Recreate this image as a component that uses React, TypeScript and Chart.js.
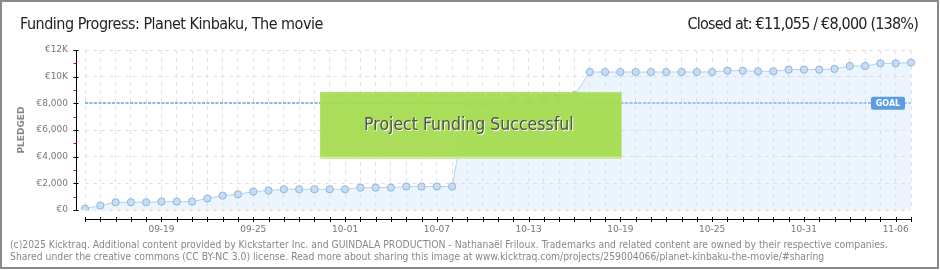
import React, { useEffect, useRef } from "react";
import { Chart, registerables } from "chart.js";

Chart.register(...registerables);

// ---------- data ----------
const DATES: string[] = [
  "09-14", "09-15", "09-16", "09-17", "09-18", "09-19", "09-20", "09-21", "09-22", "09-23",
  "09-24", "09-25", "09-26", "09-27", "09-28", "09-29", "09-30", "10-01", "10-02", "10-03",
  "10-04", "10-05", "10-06", "10-07", "10-08", "10-09", "10-10", "10-11", "10-12", "10-13",
  "10-14", "10-15", "10-16", "10-17", "10-18", "10-19", "10-20", "10-21", "10-22", "10-23",
  "10-24", "10-25", "10-26", "10-27", "10-28", "10-29", "10-30", "10-31", "11-01", "11-02",
  "11-03", "11-04", "11-05", "11-06", "11-07",
];

const PLEDGED: number[] = [
  100, 330, 580, 580, 580, 630, 630, 630, 860, 1080,
  1180, 1380, 1460, 1556, 1556, 1556, 1556, 1556, 1680, 1680,
  1680, 1760, 1760, 1760, 1760, 8000, 8050, 8050, 8250, 8250,
  8400, 8500, 8620, 10350, 10350, 10350, 10350, 10350, 10350, 10350,
  10350, 10350, 10450, 10450, 10400, 10400, 10530, 10530, 10530, 10580,
  10800, 10800, 11000, 11000, 11055,
];

const GOAL = 8000;
const Y_MAX = 12000;
const Y_MAJOR_STEP = 2000;
const Y_MINOR_STEP = 1000;
const LABEL_EVERY = 6;
const LABEL_OFFSET = 5;

const TITLE = "Funding Progress: Planet Kinbaku, The movie";
const CLOSED_TEXT = "Closed at: €11,055 / €8,000 (138%)";
const SUCCESS_TEXT = "Project Funding Successful";
const FOOTER_1 =
  "(c)2025 Kicktraq. Additional content provided by Kickstarter Inc. and GUINDALA PRODUCTION - Nathanaël Friloux. Trademarks and related content are owned by their respective companies.";
const FOOTER_2 =
  "Shared under the creative commons (CC BY-NC 3.0) license. Read more about sharing this image at www.kicktraq.com/projects/259004066/planet-kinbaku-the-movie/#sharing";

function yLabel(v: number): string {
  if (v >= 10000) return "€" + v / 1000 + "K";
  return "€" + v.toLocaleString("en-US");
}

const decorPlugin = {
  id: "kicktraqDecor",
  beforeDatasetsDraw(chart: any) {
    const { ctx, chartArea, scales } = chart;
    const y = scales.y;
    const gy = Math.round(y.getPixelForValue(GOAL));
    ctx.save();
    ctx.strokeStyle = "#86b8ee";
    ctx.lineWidth = 2;
    ctx.setLineDash([3, 1.5]);
    ctx.beginPath();
    ctx.moveTo(chartArea.left, gy);
    ctx.lineTo(chartArea.right, gy);
    ctx.stroke();
    ctx.restore();
  },
  afterDatasetsDraw(chart: any) {
    const { ctx, chartArea, scales } = chart;
    const x = scales.x;
    const y = scales.y;
    ctx.save();

    // y axis line + ticks
    const ax = Math.round(chartArea.left - 9) + 0.5;
    ctx.strokeStyle = "#000";
    ctx.lineWidth = 1;
    ctx.beginPath();
    ctx.moveTo(ax, chartArea.top);
    ctx.lineTo(ax, chartArea.bottom);
    ctx.stroke();
    for (let v = 0; v <= Y_MAX; v += Y_MINOR_STEP) {
      const py = Math.round(y.getPixelForValue(v)) + 0.5;
      const major = v % Y_MAJOR_STEP === 0;
      ctx.strokeStyle = major ? "#000" : "#e00000";
      ctx.beginPath();
      ctx.moveTo(ax - 3, py);
      ctx.lineTo(major ? ax + 2 : ax, py);
      ctx.stroke();
    }

    // x axis line + ticks
    const ay = Math.round(chartArea.bottom + 10) - 0.5;
    ctx.strokeStyle = "#000";
    ctx.beginPath();
    ctx.moveTo(chartArea.left, ay);
    ctx.lineTo(chartArea.right, ay);
    ctx.stroke();
    for (let i = 0; i < DATES.length; i++) {
      const px = Math.round(x.getPixelForValue(i)) + 0.5;
      ctx.beginPath();
      ctx.moveTo(px, ay - 2.5);
      ctx.lineTo(px, ay + 2.5);
      ctx.stroke();
    }

    // success box (placed in data units)
    const bx0 = x.getPixelForValue(15.37);
    const bx1 = x.getPixelForValue(35.08);
    const by0 = y.getPixelForValue(8830);
    const by1 = y.getPixelForValue(3860);
    ctx.globalAlpha = 0.93;
    ctx.fillStyle = "#a3da4a";
    ctx.fillRect(bx0, by0, bx1 - bx0, by1 - by0);
    // subtle diagonal hatch
    ctx.globalAlpha = 0.12;
    ctx.strokeStyle = "#d6f0a8";
    ctx.lineWidth = 1;
    ctx.save();
    ctx.beginPath();
    ctx.rect(bx0, by0, bx1 - bx0, by1 - by0);
    ctx.clip();
    for (let d = bx0 - (by1 - by0); d < bx1; d += 3) {
      ctx.beginPath();
      ctx.moveTo(d, by1);
      ctx.lineTo(d + (by1 - by0), by0);
      ctx.stroke();
    }
    ctx.restore();
    ctx.globalAlpha = 1;
    ctx.fillStyle = "#cfeb9a";
    ctx.fillRect(bx0, by1 - 2, bx1 - bx0, 2);
    ctx.fillStyle = "#b4e06c";
    ctx.fillRect(bx0, by0, bx1 - bx0, 1);

    ctx.font = '17.5px "DejaVu Sans Condensed", sans-serif';
    ctx.textAlign = "center";
    ctx.textBaseline = "middle";
    const tx = (bx0 + bx1) / 2 - 2;
    const ty = (by0 + by1) / 2;
    ctx.fillStyle = "#ffffff";
    ctx.fillText(SUCCESS_TEXT, tx + 1, ty + 1);
    ctx.fillStyle = "#505050";
    ctx.fillText(SUCCESS_TEXT, tx, ty);

    // goal label
    const gy = y.getPixelForValue(GOAL);
    const lw = 34;
    const lh = 13;
    const lx = chartArea.right - 6 - lw;
    ctx.fillStyle = "#5b9de2";
    ctx.beginPath();
    (ctx as any).roundRect(lx, gy - lh / 2, lw, lh, 2);
    ctx.fill();
    ctx.fillStyle = "#ffffff";
    ctx.font = 'bold 8px "DejaVu Sans", sans-serif';
    ctx.textAlign = "center";
    ctx.textBaseline = "middle";
    ctx.fillText("GOAL", lx + lw / 2, gy + 0.5);

    ctx.restore();
  },
};

export default function App() {
  const canvasRef = useRef<HTMLCanvasElement | null>(null);

  useEffect(() => {
    document.body.style.margin = "0";
    const canvas = canvasRef.current;
    if (!canvas) return;
    const tickFont = { family: '"DejaVu Sans", sans-serif', size: 9 };
    const chart = new Chart(canvas, {
      type: "line",
      data: {
        labels: DATES,
        datasets: [
          {
            data: PLEDGED,
            fill: "origin",
            backgroundColor: "rgba(196, 222, 250, 0.32)",
            borderColor: "#b4d3f3",
            borderWidth: 1,
            tension: 0,
            pointRadius: 3.6,
            pointBackgroundColor: "#c6ddf6",
            pointBorderColor: "#90b3da",
            pointBorderWidth: 1,
          },
        ],
      },
      options: {
        animation: false,
        responsive: false,
        maintainAspectRatio: false,
        events: [],
        layout: { padding: { top: 50, right: 29, left: 0, bottom: 0 } },
        plugins: {
          legend: { display: false },
          tooltip: { enabled: false },
          title: { display: false },
        },
        scales: {
          x: {
            type: "category",
            offset: false,
            grid: { color: "#e2e2e2", drawTicks: false, lineWidth: 1 },
            border: { display: false, dash: [4, 4] },
            ticks: {
              autoSkip: false,
              maxRotation: 0,
              minRotation: 0,
              padding: 14,
              color: "#777",
              font: tickFont,
              callback: (_v: any, i: number) =>
                i % LABEL_EVERY === LABEL_OFFSET ? DATES[i] : "",
            },
            afterFit: (s: any) => {
              s.height = 60;
            },
          },
          y: {
            min: 0,
            max: Y_MAX,
            grid: { color: "#e2e2e2", drawTicks: false, lineWidth: 1 },
            border: { display: false, dash: [4, 4] },
            ticks: {
              stepSize: Y_MAJOR_STEP,
              padding: 17,
              color: "#777",
              font: tickFont,
              callback: (v: any) => yLabel(Number(v)),
            },
            title: {
              display: true,
              text: "PLEDGED",
              color: "#888",
              font: { family: '"DejaVu Sans", sans-serif', size: 9, weight: "bold" },
              padding: { top: 16, bottom: 0 },
            },
            afterFit: (s: any) => {
              s.width = 85;
            },
          },
        },
      },
      plugins: [decorPlugin],
    } as any);
    return () => chart.destroy();
  }, []);

  const narrow = '"DejaVu Sans Condensed", sans-serif';
  const footerFont = '"DejaVu Sans Condensed", "DejaVu Sans", sans-serif';

  return (
    <div
      style={{
        position: "relative",
        width: 940,
        height: 270,
        background: "#fff",
        overflow: "hidden",
      }}
    >
      <canvas
        ref={canvasRef}
        width={940}
        height={270}
        style={{ position: "absolute", left: 0, top: 0, width: 940, height: 270 }}
      />
      <div
        style={{
          position: "absolute",
          left: 20,
          top: 16,
          font: `16px ${narrow}`,
          lineHeight: "16px",
          letterSpacing: "-0.5px",
          color: "#222",
          whiteSpace: "nowrap",
        }}
      >
        {TITLE}
      </div>
      <div
        style={{
          position: "absolute",
          right: 22,
          top: 16,
          font: `16px ${narrow}`,
          lineHeight: "16px",
          letterSpacing: "-0.8px",
          color: "#222",
          whiteSpace: "pre",
        }}
      >
        {CLOSED_TEXT}
      </div>
      <div
        style={{
          position: "absolute",
          left: 10,
          top: 237.5,
          font: `10.3px ${footerFont}`,
          lineHeight: "12px",
          color: "#888",
          whiteSpace: "nowrap",
        }}
      >
        <div>{FOOTER_1}</div>
        <div>{FOOTER_2}</div>
      </div>
      <div
        style={{
          position: "absolute",
          left: 0,
          top: 0,
          width: 939,
          height: 269,
          boxSizing: "border-box",
          border: "2px solid #8a8a8a",
          pointerEvents: "none",
        }}
      />
    </div>
  );
}
